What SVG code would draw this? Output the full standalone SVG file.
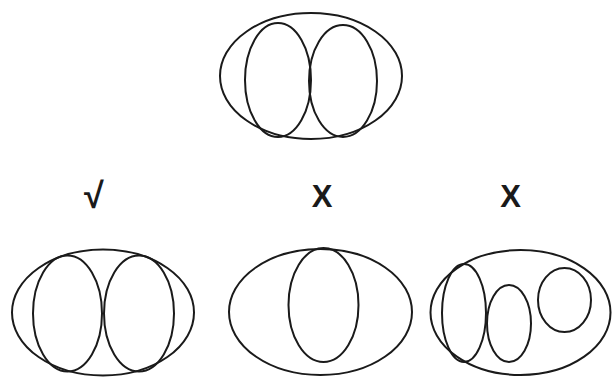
<svg xmlns="http://www.w3.org/2000/svg" width="612" height="377" viewBox="0 0 612 377">
<style>
.e{fill:none;stroke:#1a1a1a;stroke-width:2}
.t{font-family:"Liberation Sans",Arial,sans-serif;font-weight:bold;fill:#1a1a1a;text-anchor:middle}
</style>
<rect width="612" height="377" fill="#fff"/>
<g id="top">
<ellipse class="e" cx="311" cy="76" rx="91" ry="63"/>
<ellipse class="e" cx="278" cy="80" rx="33" ry="57"/>
<ellipse class="e" cx="343" cy="81" rx="34" ry="56"/>
</g>
<g id="label-check"><text class="t" x="94" y="208" font-size="36">√</text></g>
<g id="label-x1"><text class="t" x="322" y="207" font-size="31">X</text></g>
<g id="label-x2"><text class="t" x="510.5" y="207" font-size="31">X</text></g>
<g id="left">
<ellipse class="e" cx="103" cy="312.5" rx="91" ry="63"/>
<ellipse class="e" cx="67.5" cy="313.5" rx="34.5" ry="58"/>
<ellipse class="e" cx="139" cy="313.5" rx="35" ry="58"/>
</g>
<g id="middle">
<ellipse class="e" cx="320.5" cy="312" rx="91.5" ry="63"/>
<ellipse class="e" cx="323.5" cy="305" rx="35" ry="57"/>
</g>
<g id="right">
<ellipse class="e" cx="520.5" cy="312.5" rx="90" ry="62.5"/>
<ellipse class="e" cx="464" cy="313" rx="22" ry="49"/>
<ellipse class="e" cx="509" cy="323.5" rx="22" ry="38.5"/>
<ellipse class="e" cx="564.5" cy="300" rx="26.5" ry="32"/>
</g>
<g id="connectors"></g>
</svg>
